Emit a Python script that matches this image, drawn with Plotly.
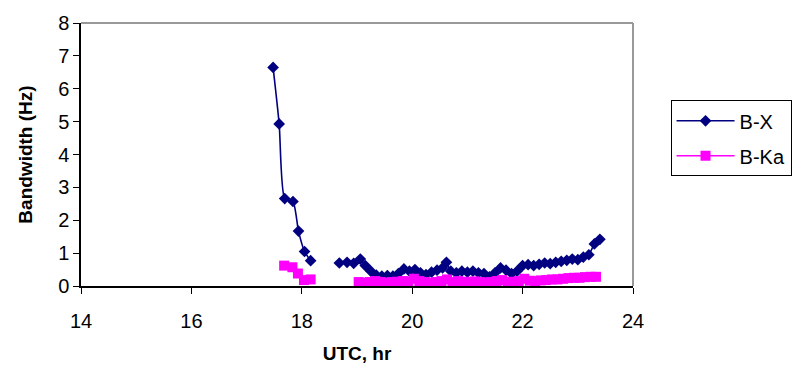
import plotly.graph_objects as go

# B-X series (UTC hr, bandwidth Hz); None marks the data gap
bx_t = [17.48, 17.59, 17.69, 17.84, 17.94, 18.05, 18.16, None,
        18.68, 18.82, 18.94, 19.06, 19.15, 19.25, 19.35, 19.45, 19.55, 19.65,
        19.75, 19.85, 19.95, 20.05, 20.15, 20.25, 20.35, 20.45, 20.55, 20.62,
        20.70, 20.80, 20.90, 21.00, 21.10, 21.20, 21.30, 21.40, 21.50, 21.60,
        21.70, 21.80, 21.90, 22.00, 22.10, 22.20, 22.30, 22.40, 22.50, 22.60,
        22.70, 22.80, 22.90, 23.00, 23.10, 23.20, 23.30, 23.40]
bx_v = [6.65, 4.93, 2.66, 2.57, 1.67, 1.05, 0.77, None,
        0.70, 0.72, 0.69, 0.82, 0.62, 0.45, 0.33, 0.30, 0.32, 0.30,
        0.38, 0.52, 0.45, 0.50, 0.40, 0.35, 0.42, 0.48, 0.55, 0.72,
        0.45, 0.40, 0.45, 0.42, 0.45, 0.40, 0.38, 0.28, 0.40, 0.55,
        0.48, 0.38, 0.45, 0.62, 0.65, 0.62, 0.66, 0.70, 0.68, 0.72,
        0.75, 0.78, 0.82, 0.80, 0.88, 0.95, 1.28, 1.42]

# B-Ka series
bka_t = [17.68, 17.83, 17.93, 18.04, 18.16, None,
         19.03, 19.13, 19.23, 19.33, 19.43, 19.53, 19.63, 19.73, 19.83, 19.93,
         20.03, 20.13, 20.23, 20.33, 20.43, 20.53, 20.63, 20.73, 20.83, 20.93,
         21.03, 21.13, 21.23, 21.33, 21.43, 21.53, 21.63, 21.73, 21.83, 21.93,
         22.03, 22.13, 22.23, 22.33, 22.43, 22.53, 22.63, 22.73, 22.83, 22.93,
         23.03, 23.13, 23.23, 23.33]
bka_v = [0.62, 0.57, 0.38, 0.18, 0.20, None,
         0.12, 0.10, 0.12, 0.15, 0.12, 0.10, 0.12, 0.13, 0.15, 0.14,
         0.22, 0.15, 0.12, 0.10, 0.12, 0.15, 0.20, 0.12, 0.15, 0.13,
         0.12, 0.14, 0.12, 0.10, 0.12, 0.15, 0.18, 0.13, 0.12, 0.15,
         0.22, 0.16, 0.15, 0.17, 0.18, 0.20, 0.20, 0.22, 0.24, 0.25,
         0.25, 0.27, 0.28, 0.28]

x_ticks = [14, 16, 18, 20, 22, 24]
y_ticks = [0, 1, 2, 3, 4, 5, 6, 7, 8]

FONT = "Liberation Sans, Arial, sans-serif"

fig = go.Figure()
fig.add_trace(go.Scatter(
    x=bx_t, y=bx_v, name="B-X", mode="lines+markers",
    line=dict(color="#000080", width=1.6, shape="spline", smoothing=0.6),
    marker=dict(symbol="diamond", size=9, color="#000080"),
    connectgaps=False, cliponaxis=False, legendgroup="a"))
fig.add_trace(go.Scatter(
    x=bka_t, y=bka_v, name="B-Ka", mode="lines+markers",
    line=dict(color="#FF00FF", width=1.6, shape="spline", smoothing=0.6),
    marker=dict(symbol="square", size=10, color="#FF00FF"),
    connectgaps=False, cliponaxis=False, legendgroup="b"))

fig.update_layout(
    width=804, height=373,
    margin=dict(l=81, r=168, t=17, b=87),
    paper_bgcolor="white", plot_bgcolor="white",
    font=dict(family=FONT, size=20, color="black"),
    showlegend=True,
    legend=dict(x=1.068, y=0.706, xanchor="left", yanchor="top",
                bordercolor="black", borderwidth=1, bgcolor="white",
                font=dict(family=FONT, size=20, color="black"),
                tracegroupgap=6, itemwidth=58),
    xaxis=dict(range=[14, 24], tickvals=x_ticks, ticktext=[str(v) for v in x_ticks],
               showgrid=False, zeroline=False, showline=True, linecolor="black",
               linewidth=1.5, ticks="outside", ticklen=6, tickcolor="black",
               ticklabelstandoff=10,
               tickfont=dict(family=FONT, size=20),
               title=dict(text="<b>UTC, hr</b>", standoff=16,
                          font=dict(family=FONT, size=19))),
    yaxis=dict(range=[0, 8], tickvals=y_ticks, ticktext=[str(v) for v in y_ticks],
               showgrid=False, zeroline=False, showline=True, linecolor="black",
               linewidth=1.5, ticks="outside", ticklen=6, tickcolor="black",
               tickfont=dict(family=FONT, size=20),
               title=dict(text="<b>Bandwidth (Hz)</b>", standoff=20,
                          font=dict(family=FONT, size=19))),
    shapes=[
        dict(type="line", xref="paper", yref="paper", x0=0, x1=1, y0=1, y1=1,
             line=dict(color="#999999", width=2)),
        dict(type="line", xref="paper", yref="paper", x0=1, x1=1, y0=0, y1=1,
             line=dict(color="#999999", width=2)),
    ],
)

fig.write_html("out.html")
